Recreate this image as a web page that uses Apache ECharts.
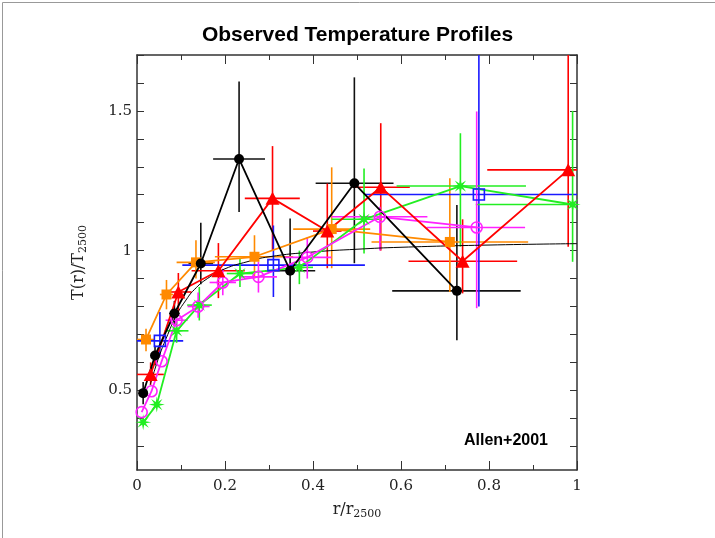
<!DOCTYPE html>
<html lang="en">
<head>
  <meta charset="UTF-8">
  <title>Observed Temperature Profiles</title>
  <script src="https://cdn.jsdelivr.net/npm/echarts@6/dist/echarts.min.js"></script>
</head>
<body style="margin: 0;">
<div id="main" style="width: 715px; height: 538px;"></div>
<script type="text/javascript">
  // each point: [r, T, rLow, rHigh, TLow, THigh]
  const blackPts = [
    [0.014, 0.49, 0.004, 0.024, 0.45, 0.53],
    [0.041, 0.625, 0.031, 0.051, 0.59, 0.66],
    [0.085, 0.775, 0.073, 0.097, 0.73, 0.82],
    [0.145, 0.954, 0.117, 0.173, 0.88, 1.10],
    [0.232, 1.328, 0.173, 0.291, 1.138, 1.605],
    [0.348, 0.928, 0.291, 0.405, 0.786, 1.115],
    [0.494, 1.241, 0.406, 0.583, 0.955, 1.62],
    [0.727, 0.856, 0.58, 0.872, 0.679, 1.163]
  ]
  const redPts = [
    [0.031, 0.557, 0.0, 0.061, 0.52, 0.60],
    [0.094, 0.852, 0.064, 0.124, 0.78, 0.92],
    [0.185, 0.928, 0.124, 0.245, 0.83, 1.027],
    [0.308, 1.187, 0.245, 0.37, 1.0, 1.374],
    [0.4325, 1.07, 0.40, 0.465, 0.937, 1.24],
    [0.554, 1.227, 0.49, 0.62, 1.0, 1.456],
    [0.74, 0.962, 0.617, 0.864, 0.847, 1.112],
    [0.98, 1.289, 0.796, 1.0, 1.014, 1.85]
  ]
  const orangePts = [
    [0.0205, 0.682, 0.0, 0.04, 0.64, 0.72],
    [0.067, 0.843, 0.052, 0.082, 0.79, 0.895],
    [0.134, 0.958, 0.09, 0.177, 0.90, 1.037],
    [0.267, 0.978, 0.177, 0.355, 0.90, 1.055],
    [0.4425, 1.077, 0.355, 0.53, 0.937, 1.298],
    [0.711, 1.031, 0.533, 0.889, 0.852, 1.259]
  ]
  const bluePts = [
    [0.052, 0.677, 0.0, 0.105, 0.62, 0.78],
    [0.31, 0.948, 0.103, 0.518, 0.834, 1.09],
    [0.777, 1.201, 0.518, 1.05, 0.80, 1.85]
  ]
  const greenPts = [
    [0.014, 0.386, 0.014, 0.014, 0.386, 0.386],
    [0.045, 0.449, 0.045, 0.045, 0.449, 0.449],
    [0.09, 0.713, 0.063, 0.117, 0.67, 0.76],
    [0.1416, 0.805, 0.114, 0.17, 0.75, 0.87],
    [0.234, 0.918, 0.204, 0.264, 0.87, 0.97],
    [0.369, 0.94, 0.34, 0.40, 0.88, 1.00],
    [0.516, 1.112, 0.442, 0.556, 0.99, 1.294],
    [0.735, 1.231, 0.59, 0.884, 1.014, 1.42],
    [0.99, 1.165, 0.77, 1.05, 0.96, 1.50]
  ]
  const magentaPts = [
    [0.0106, 0.422, 0.0106, 0.0106, 0.422, 0.422],
    [0.033, 0.497, 0.033, 0.033, 0.497, 0.497],
    [0.056, 0.604, 0.056, 0.056, 0.604, 0.604],
    [0.09, 0.751, 0.065, 0.115, 0.72, 0.79],
    [0.139, 0.80, 0.115, 0.165, 0.76, 0.85],
    [0.195, 0.886, 0.165, 0.225, 0.84, 0.935],
    [0.276, 0.906, 0.235, 0.318, 0.85, 0.96],
    [0.387, 0.976, 0.333, 0.442, 0.90, 1.047],
    [0.552, 1.121, 0.442, 0.66, 1.0, 1.157],
    [0.772, 1.083, 0.658, 0.882, 0.794, 1.498]
  ]
  // thin model curve
  const modelR = [0.03, 0.05, 0.07, 0.09, 0.11, 0.13, 0.16, 0.2, 0.25, 0.3, 0.4, 0.5, 0.6, 0.8, 1.0]
  const modelT = [0.52, 0.62, 0.70, 0.77, 0.82, 0.86, 0.90, 0.935, 0.96, 0.978, 0.995, 1.005, 1.012, 1.02, 1.025]

  const xTicks = [0, 0.2, 0.4, 0.6, 0.8, 1]
  const yLabels = [0.5, 1, 1.5]
  const yMinor = [0.3, 0.4, 0.5, 0.6, 0.7, 0.8, 0.9, 1.0, 1.1, 1.2, 1.3, 1.4, 1.5, 1.6, 1.7]

  // asterisk marker for the green set
  let star = 'path://'
  for (let i = 0; i < 16; i++) {
    const a = i * Math.PI / 8
    const r = i % 2 === 0 ? 10 : 3.4
    star += (i === 0 ? 'M' : 'L') + (10 + r * Math.sin(a)).toFixed(2) + ' ' + (10 - r * Math.cos(a)).toFixed(2)
  }
  star += 'Z'

  const myChart = echarts.init(document.getElementById('main'));

  function errBars(pts, color) {
    return {
      type: 'custom',
      data: pts,
      clip: true,
      silent: true,
      z: 1,
      encode: {x: 0, y: 1},
      renderItem: (params, api) => {
        const y = api.value(1), x = api.value(0)
        const a = api.coord([api.value(2), y]), b = api.coord([api.value(3), y])
        const c = api.coord([x, api.value(4)]), d = api.coord([x, api.value(5)])
        const st = {stroke: color, lineWidth: 1.6}
        return {
          type: 'group',
          children: [
            {type: 'line', shape: {x1: a[0], y1: a[1], x2: b[0], y2: b[1]}, style: st},
            {type: 'line', shape: {x1: c[0], y1: c[1], x2: d[0], y2: d[1]}, style: st}
          ]
        }
      }
    }
  }

  function pts(name, data, color, symbol, size, hollow, joined) {
    return {
      name: name,
      type: 'line',
      data: data.map(p => [p[0], p[1]]),
      z: 3,
      symbol: symbol,
      symbolSize: size,
      showAllSymbol: true,
      lineStyle: {color: color, width: joined ? 1.8 : 0, opacity: joined ? 1 : 0},
      itemStyle: hollow ? {color: 'rgba(255,255,255,0)', borderColor: color, borderWidth: 1.6, opacity: 1}
                        : {color: color, borderWidth: 0},
      emphasis: {disabled: true},
      animation: false
    }
  }

  const labelFont = {fontFamily: 'DejaVu Serif', fontSize: 15, color: '#222'}
  const frame = {show: true, onZero: false, lineStyle: {color: '#333', width: 1.5}}

  const option = {
    animation: false,
    title: {
      text: 'Observed Temperature Profiles',
      left: 'center',
      top: 20,
      textStyle: {fontFamily: 'Liberation Sans', fontSize: 21, fontWeight: 'bold', color: '#000'}
    },
    grid: {left: 137, right: 138, top: 55, bottom: 68},
    xAxis: [{
      type: 'value', min: 0, max: 1, interval: 0.2,
      axisLine: frame,
      axisTick: {inside: true, length: 9, lineStyle: {color: '#333'}},
      minorTick: {show: true, splitNumber: 2, length: 5, lineStyle: {color: '#333'}},
      splitLine: {show: false},
      axisLabel: Object.assign({margin: 9, formatter: v => xTicks.includes(v) ? String(v) : '', showMaxLabel: true}, labelFont),
      name: '{a|r/r}{s|2500}',
      nameLocation: 'middle',
      nameGap: 30,
      nameTextStyle: {rich: {a: {fontFamily: 'DejaVu Serif', fontSize: 16, color: '#222'},
        s: {fontFamily: 'DejaVu Serif', fontSize: 11, color: '#222', padding: [9, 0, 0, 0]}}}
    }, {
      type: 'value', min: 0, max: 1, interval: 0.2, position: 'top',
      axisLine: frame,
      axisTick: {inside: true, length: 9, lineStyle: {color: '#333'}},
      minorTick: {show: true, splitNumber: 2, length: 5, lineStyle: {color: '#333'}},
      splitLine: {show: false},
      axisLabel: {show: false}
    }],
    yAxis: [{
      type: 'value', min: 0.215, max: 1.7,
      axisLine: frame,
      axisTick: {inside: true, length: 7, customValues: yMinor, lineStyle: {color: '#333'}},
      splitLine: {show: false},
      axisLabel: Object.assign({margin: 5, customValues: yLabels, formatter: v => String(v)}, labelFont),
      name: '{a|T(r)/T}{s|2500}',
      nameLocation: 'middle',
      nameGap: 48,
      nameTextStyle: {rich: {a: {fontFamily: 'DejaVu Serif', fontSize: 16, color: '#222'},
        s: {fontFamily: 'DejaVu Serif', fontSize: 11, color: '#222', padding: [9, 0, 0, 0]}}}
    }, {
      type: 'value', min: 0.215, max: 1.7, position: 'right',
      axisLine: frame,
      axisTick: {inside: true, length: 7, customValues: yMinor, lineStyle: {color: '#333'}},
      splitLine: {show: false},
      axisLabel: {show: false}
    }],
    graphic: [{
      type: 'rect', left: 0, top: 0, silent: true,
      shape: {width: 714, height: 537},
      style: {fill: 'none', stroke: '#999', lineWidth: 1}
    }, {
      type: 'text', right: 167, top: 433, silent: true,
      style: {text: 'Allen+2001', font: 'bold 16px "Liberation Sans"', fill: '#000'}
    }],
    series: [
      {
        type: 'line', data: modelR.map((r, i) => [r, modelT[i]]), symbol: 'none', smooth: true,
        lineStyle: {color: '#000', width: 1}, z: 2, silent: true
      },
      errBars(blackPts, '#111'),
      errBars(redPts, '#ff0000'),
      errBars(orangePts, '#ff8a00'),
      errBars(bluePts, '#1a1aff'),
      errBars(greenPts, '#22ee22'),
      errBars(magentaPts, '#ff22ff'),
      pts('orange', orangePts, '#ff8a00', 'rect', 10, false, true),
      pts('blue', bluePts, '#1a1aff', 'rect', 11, true, false),
      pts('green', greenPts, '#22ee22', star, 16, false, true),
      pts('magenta', magentaPts, '#ff22ff', 'circle', 11, true, true),
      pts('red', redPts, '#ff0000', 'triangle', [14, 13], false, true),
      pts('black', blackPts, '#000', 'circle', 10, false, true)
    ]
  };

  myChart.setOption(option);
</script>
</body>
</html>
